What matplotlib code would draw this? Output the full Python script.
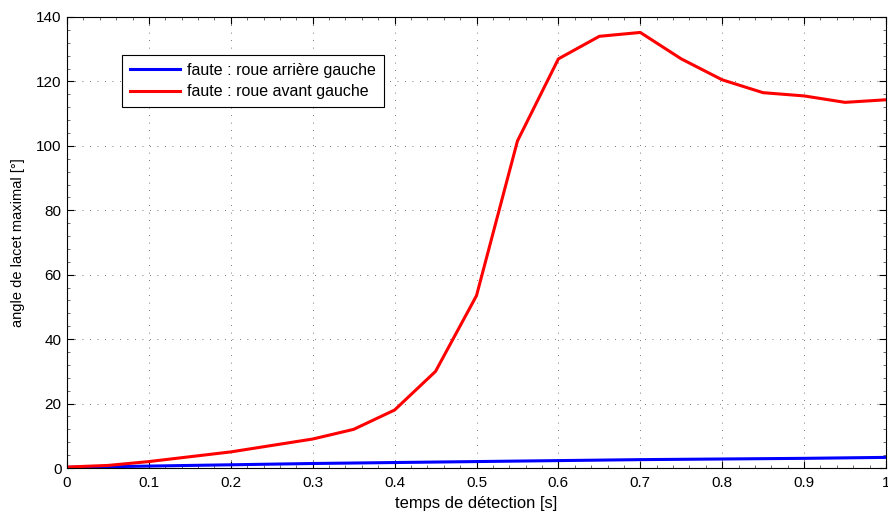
import numpy as np
import matplotlib.pyplot as plt
from matplotlib.ticker import MultipleLocator

plt.rcParams['font.family'] = ['Liberation Sans', 'DejaVu Sans']

# temps de détection [s]
t = [0.0, 0.05, 0.1, 0.15, 0.2, 0.25, 0.3, 0.35, 0.4, 0.45, 0.5,
     0.55, 0.6, 0.65, 0.7, 0.75, 0.8, 0.85, 0.9, 0.95, 1.0]

# angle de lacet maximal [°]
arriere_gauche = [0.2, 0.4, 0.6, 0.8, 1.0, 1.2, 1.4, 1.55, 1.7, 1.85, 2.0,
                  2.15, 2.3, 2.45, 2.6, 2.7, 2.8, 2.9, 3.0, 3.15, 3.3]
avant_gauche = [0.3, 0.8, 2.0, 3.5, 5.0, 7.0, 9.0, 12.0, 18.0, 30.0, 53.5,
                101.5, 127.0, 134.0, 135.2, 127.0, 120.5, 116.5, 115.5, 113.5, 114.3]

fig = plt.figure(figsize=(8.88, 5.13), dpi=100)
ax = fig.add_axes([0.0755, 0.0877, 0.9222, 0.8792])

ax.plot(t, arriere_gauche, color='#0000ff', linewidth=2.2, label='faute : roue arrière gauche')
ax.plot(t, avant_gauche, color='#ff0000', linewidth=2.2, label='faute : roue avant gauche')

ax.set_xlim(0, 1)
ax.set_ylim(0, 140)
ax.set_xticks(np.arange(0, 1.01, 0.1))
ax.set_xticklabels(['0', '0.1', '0.2', '0.3', '0.4', '0.5', '0.6', '0.7', '0.8', '0.9', '1'])
ax.set_yticks(np.arange(0, 141, 20))
ax.xaxis.set_minor_locator(MultipleLocator(0.02))
ax.yaxis.set_minor_locator(MultipleLocator(4))
ax.tick_params(which='both', direction='in', top=True, right=True, labelsize=11)
ax.tick_params(which='major', length=5)
ax.tick_params(which='minor', length=2.5, width=0.6, color='#555555')
ax.tick_params(axis='x', pad=6)
ax.tick_params(axis='y', pad=4)
ax.grid(True, which='major', linestyle=(0, (1, 8)), color='black', linewidth=0.6, alpha=0.7)

ax.set_xlabel('temps de détection [s]', fontsize=11.9, labelpad=4)
ax.set_ylabel('angle de lacet maximal [°]', fontsize=10.5, labelpad=8)

leg = ax.legend(loc='upper left', bbox_to_anchor=(0.0672, 0.9157), fontsize=11.5,
                fancybox=False, framealpha=1, edgecolor='black', borderaxespad=0,
                handlelength=3.1, handletextpad=0.45, borderpad=0.5, labelspacing=0.4)
leg.get_frame().set_linewidth(0.8)

fig.savefig('out.png', dpi=100)
